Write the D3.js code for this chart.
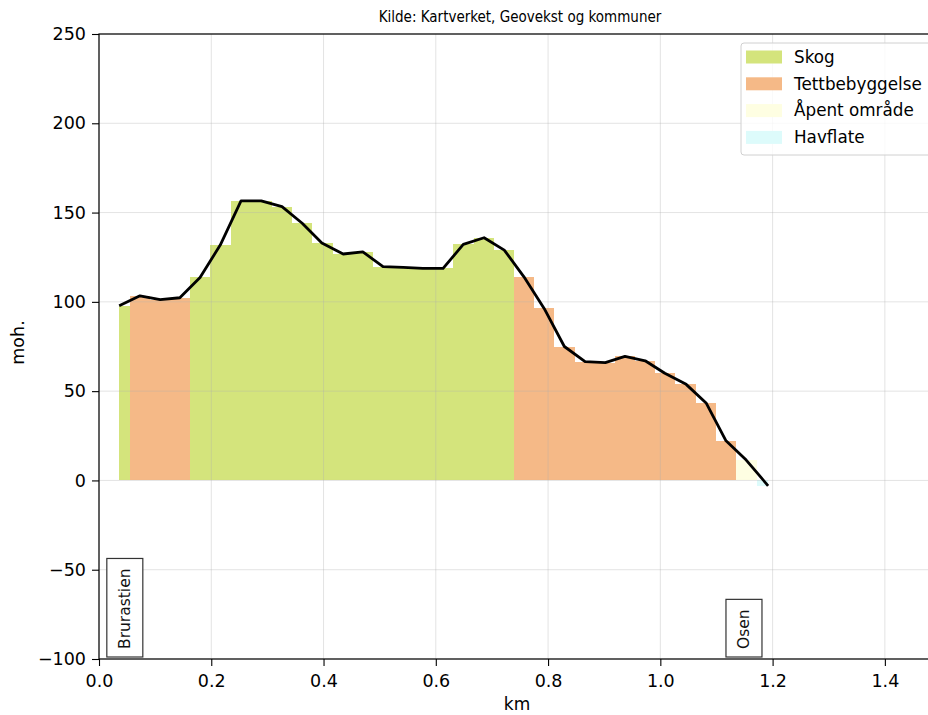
<!DOCTYPE html>
<html>
<head>
<meta charset="utf-8">
<script src="https://cdn.jsdelivr.net/npm/d3@7"></script>
<style>
  body { margin: 0; background: #fff; }
  svg { display: block; font-family: 'DejaVu Sans', sans-serif; }
</style>
</head>
<body>
<div class="canvas"></div>
<script>
// profile points (km along route, metres above sea level, land cover)
const km = [0.036, 0.073, 0.109, 0.144, 0.180, 0.216, 0.253, 0.289, 0.326, 0.362,
  0.397, 0.435, 0.470, 0.506, 0.542, 0.577, 0.613, 0.649, 0.686, 0.722,
  0.757, 0.793, 0.829, 0.866, 0.902, 0.937, 0.973, 1.008, 1.046, 1.082,
  1.117, 1.153, 1.192];
const elevation = [97.8, 103.4, 101.2, 102.3, 113.7, 131.8, 156.6, 156.6, 153.3, 144,
  133, 126.8, 128, 119.7, 119.3, 118.7, 118.7, 132.2, 135.9, 129,
  114, 96.3, 75, 66.5, 66, 69.5, 67, 60, 53.8, 43.2,
  22.2, 11.4, -3];
const cover = [0, 1, 1, 1, 0, 0, 0, 0, 0, 0,
  0, 0, 0, 0, 0, 0, 0, 0, 0, 0,
  1, 1, 1, 1, 1, 1, 1, 1, 1, 1,
  1, 2, 3];

const coverTypes = ['Skog', 'Tettbebyggelse', 'Åpent område', 'Havflate'];
const coverColors = ['#d4e47c', '#f5b987', '#fefee2', '#ddfbfb'];

const places = ['Brurastien', 'Osen'];
const placeKm = [0.046, 1.149];

const xTicks = [0, 0.2, 0.4, 0.6, 0.8, 1.0, 1.2, 1.4];
const yTicks = [-100, -50, 0, 50, 100, 150, 200, 250];

const width = 928;
const height = 715;
const margin = { top: 34, right: -13, bottom: 56, left: 99 };
const graphWidth = width - margin.left - margin.right;
const graphHeight = height - margin.top - margin.bottom;

const svg = d3
  .select('.canvas')
  .append('svg')
  .attr('width', width)
  .attr('height', height)
  .style('overflow', 'hidden');

const graph = svg
  .append('g')
  .attr('transform', `translate(${margin.left}, ${margin.top})`);

//scales
const x = d3.scaleLinear().domain([0, 1.5]).range([0, graphWidth]);
const y = d3.scaleLinear().domain([-100, 250]).range([graphHeight, 0]);

//land cover bars, one step per point
const n = km.length;
const bars = km.map((k, i) => ({
  x0: i === 0 ? k : (km[i - 1] + k) / 2,
  x1: i === n - 1 ? k : (k + km[i + 1]) / 2,
  e: elevation[i],
  c: cover[i],
}));

graph
  .append('g')
  .selectAll('rect')
  .data(bars)
  .enter()
  .append('rect')
  .attr('x', (d) => x(d.x0))
  .attr('width', (d) => x(d.x1) - x(d.x0))
  .attr('y', (d) => Math.min(y(d.e), y(0)))
  .attr('height', (d) => Math.abs(y(d.e) - y(0)))
  .attr('fill', (d) => coverColors[d.c])
  .attr('shape-rendering', 'crispEdges');

//grid
const grid = graph.append('g').attr('stroke', '#b0b0b0').attr('stroke-opacity', 0.35);
grid
  .selectAll('.gx')
  .data(xTicks)
  .enter()
  .append('line')
  .attr('x1', (d) => x(d))
  .attr('x2', (d) => x(d))
  .attr('y1', 0)
  .attr('y2', graphHeight);
grid
  .selectAll('.gy')
  .data(yTicks)
  .enter()
  .append('line')
  .attr('x1', 0)
  .attr('x2', graphWidth)
  .attr('y1', (d) => y(d))
  .attr('y2', (d) => y(d));

//profile line
const line = d3
  .line()
  .x((d, i) => x(km[i]))
  .y((d) => y(d));

graph
  .append('path')
  .datum(elevation)
  .attr('fill', 'none')
  .attr('stroke', '#000')
  .attr('stroke-width', 2.8)
  .attr('stroke-linejoin', 'round')
  .attr('d', line);

//place labels in boxes
places.forEach((name, i) => {
  const g = graph.append('g');
  const t = g
    .append('text')
    .attr('transform', `translate(${x(placeKm[i])}, ${y(-100) - 10}) rotate(-90)`)
    .attr('text-anchor', 'start')
    .attr('dominant-baseline', 'central')
    .attr('font-size', 15.5)
    .attr('fill', '#111')
    .text(name);
  const w = t.node().getComputedTextLength();
  g.insert('rect', 'text')
    .attr('x', x(placeKm[i]) - 18)
    .attr('y', y(-100) - 10 - w - 10)
    .attr('width', 36)
    .attr('height', w + 18)
    .attr('fill', '#fff')
    .attr('stroke', '#333')
    .attr('stroke-width', 1.2);
});

//axes
const xAxis = d3.axisBottom(x).tickValues(xTicks).tickFormat(d3.format('.1f')).tickSize(7).tickPadding(9);
const yAxis = d3.axisLeft(y).tickValues(yTicks).tickFormat((d) => (d < 0 ? '\u2212' + Math.abs(d) : d)).tickSize(7).tickPadding(6);

const xAxisGroup = graph
  .append('g')
  .attr('transform', `translate(0, ${graphHeight})`)
  .call(xAxis);
const yAxisGroup = graph.append('g').call(yAxis);

[xAxisGroup, yAxisGroup].forEach((g) => {
  g.select('.domain').remove();
  g.selectAll('line').attr('stroke', '#000').attr('stroke-width', 1.1);
  g.selectAll('text').attr('font-size', 17.5).attr('fill', '#000').attr('font-family', 'DejaVu Sans');
});

//spines
graph
  .append('rect')
  .attr('x', 0)
  .attr('y', 0)
  .attr('width', graphWidth)
  .attr('height', graphHeight)
  .attr('fill', 'none')
  .attr('stroke', '#000')
  .attr('stroke-width', 1.2);

//labels
svg
  .append('text')
  .attr('x', margin.left + graphWidth / 2)
  .attr('y', 22)
  .attr('text-anchor', 'middle')
  .attr('font-family', 'DejaVu Sans Condensed, DejaVu Sans')
  .attr('font-size', 15)
  .text('Kilde: Kartverket, Geovekst og kommuner');

svg
  .append('text')
  .attr('x', margin.left + graphWidth / 2 - 3)
  .attr('y', 710)
  .attr('text-anchor', 'middle')
  .attr('font-size', 17)
  .text('km');

svg
  .append('text')
  .attr('transform', `translate(24, ${margin.top + graphHeight / 2 - 4}) rotate(-90)`)
  .attr('text-anchor', 'middle')
  .attr('font-size', 17.5)
  .text('moh.');

//legend
const legend = svg.append('g').attr('transform', 'translate(741, 43)');
legend
  .append('rect')
  .attr('width', 193)
  .attr('height', 112)
  .attr('rx', 3)
  .attr('fill', '#fff')
  .attr('fill-opacity', 0.8)
  .attr('stroke', '#d0d0d0');

const items = legend
  .selectAll('.item')
  .data(coverTypes)
  .enter()
  .append('g')
  .attr('transform', (d, i) => `translate(0, ${14 + i * 26.8})`);

items
  .append('rect')
  .attr('x', 5)
  .attr('y', -6.5)
  .attr('width', 36)
  .attr('height', 13)
  .attr('fill', (d, i) => coverColors[i]);

items
  .append('text')
  .attr('x', 53)
  .attr('dy', '0.35em')
  .attr('font-size', 16.8)
  .text((d) => d);
</script>
</body>
</html>
